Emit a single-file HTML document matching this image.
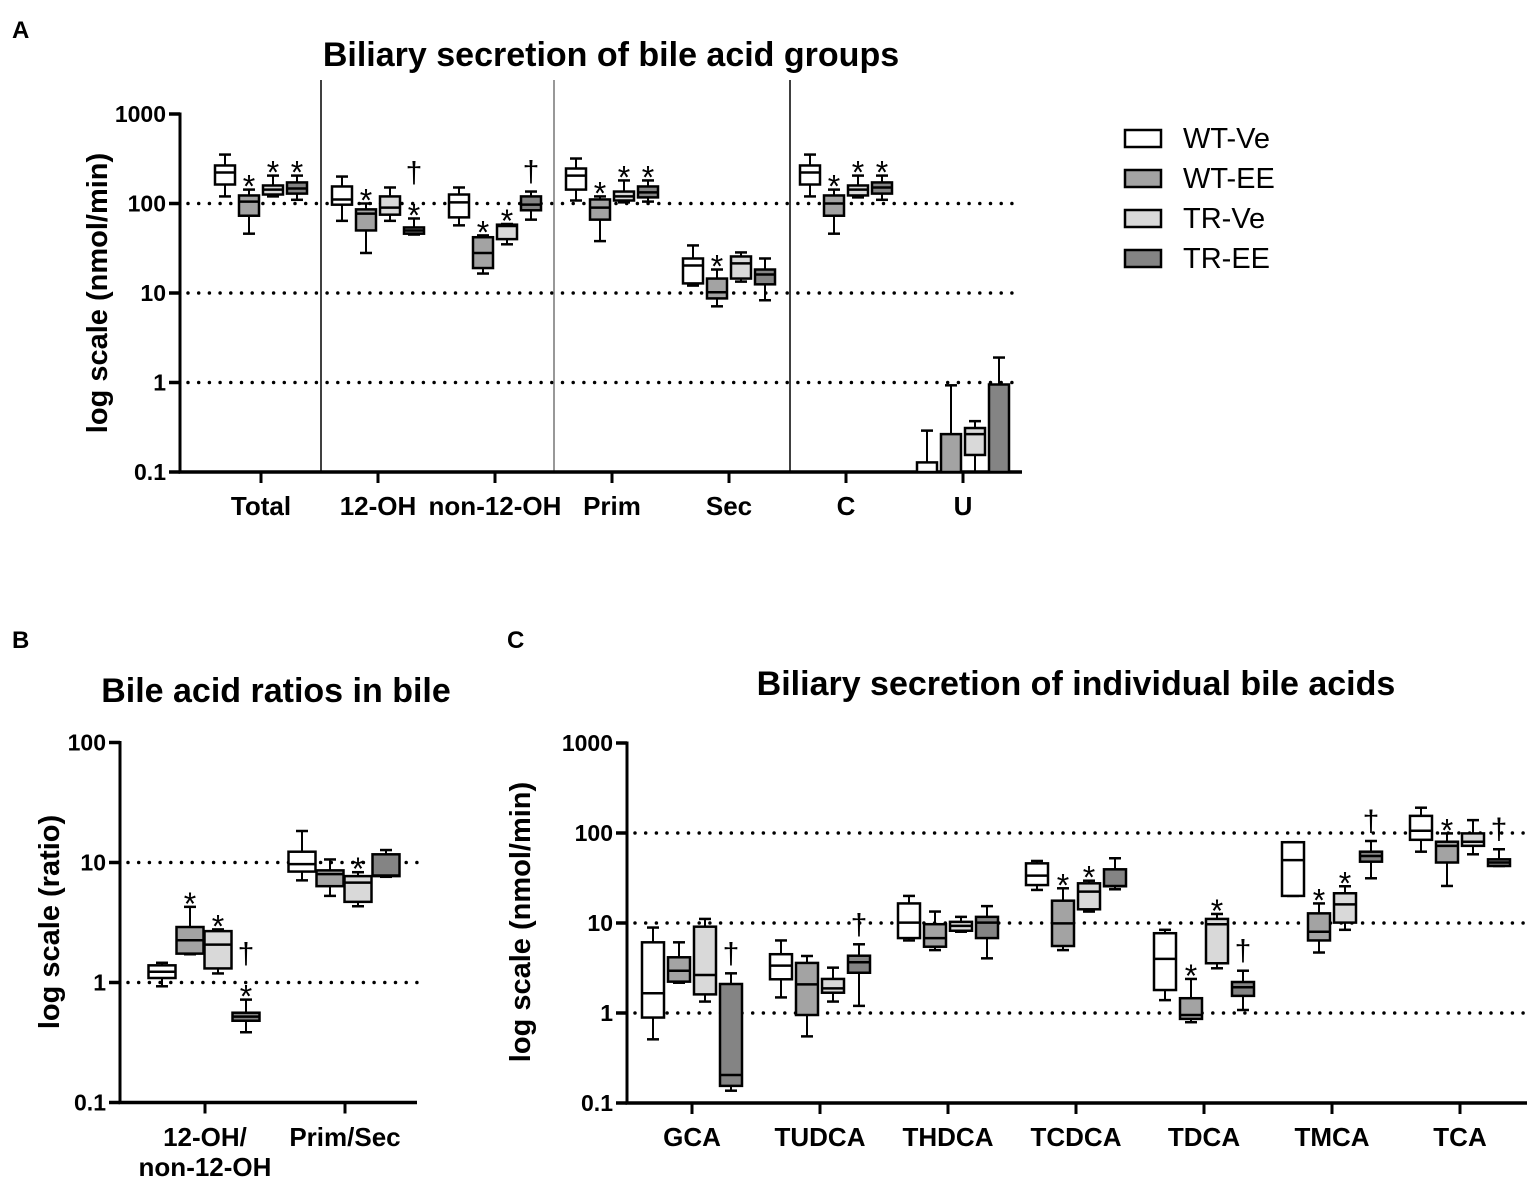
<!DOCTYPE html>
<html><head><meta charset="utf-8"><style>
html,body{margin:0;padding:0;background:#fff;}
svg{display:block;font-family:"Liberation Sans",Arial,sans-serif;}
</style></head><body>
<svg id="fig" width="1535" height="1182" viewBox="0 0 1535 1182">
<g id="root"></g>
</svg>
<script>
// ---------- Panel A data ----------
const aCategories = ["Total","12-OH","non-12-OH","Prim","Sec","C","U"];
const aWtVe  = [[120,163,222,266,352],[64,97,111,155,200],[57,70,103,126,151],[108,143,205,246,318],[12.1,12.8,20.3,24.3,34],[120,163,222,266,352],null];
const aWtEe  = [[46,73,105,123,143],[28,50,77,86,100],[16.5,19,28,42,44],[38,66,90,111,120],[7.1,8.7,10.2,14.5,18.3],[46,73,100,123,143],null];
const aTrVe  = [[120,126,143,159,205],[64,75,90,120,151],[35,40,56,58,59],[103,108,120,136,181],[13.4,14.5,21.4,25.6,28.4],[117,123,143,159,205],[0.1,0.155,0.265,0.31,0.37]];
const aTrEe  = [[110,129,147,172,205],[45,46,50,54,68],[66,84,97,120,136],[105,117,133,155,181],[8.3,12.5,16.1,18.3,24.3],[110,129,151,172,205],null];
const aUMeans = [0.128,0.265,null,0.95];
const aUErrs  = [0.29,0.93,null,1.9];
const aTicks = [1000,100,10,1,0.1];
const aTickLabels = ["1000","100","10","1","0.1"];
const aMarks = [[0,1,"*"],[0,2,"*"],[0,3,"*"],[1,1,"*"],[1,3,"*"],[1,3,"†"],[2,1,"*"],[2,2,"*"],[2,3,"†"],[3,1,"*"],[3,2,"*"],[3,3,"*"],[4,1,"*"],[5,1,"*"],[5,2,"*"],[5,3,"*"]];

// ---------- Panel B data ----------
const bCategories = ["12-OH/non-12-OH","Prim/Sec"];
const bWtVe = [[0.93,1.09,1.23,1.39,1.46],[7.1,8.4,9.7,12.3,18.3]];
const bWtEe = [[1.72,1.74,2.25,2.9,4.27],[5.27,6.35,8.0,8.6,10.6]];
const bTrVe = [[1.19,1.31,2.07,2.68,2.77],[4.32,4.7,6.8,7.7,8.3]];
const bTrEe = [[0.385,0.48,0.52,0.56,0.72],[7.6,7.7,7.8,11.7,12.7]];
const bTicks = [100,10,1,0.1];
const bTickLabels = ["100","10","1","0.1"];
const bMarks = [[0,1,"*"],[0,2,"*"],[0,3,"*"],[0,3,"†"],[1,2,"*"]];

// ---------- Panel C data ----------
const cCategories = ["GCA","TUDCA","THDCA","TCDCA","TDCA","TMCA","TCA"];
const cWtVe = [[0.51,0.89,1.66,6.1,8.9],[1.49,2.37,3.36,4.5,6.4],[6.4,6.8,10.1,16.5,20],[23.3,26.4,33.6,46,48.9],[1.39,1.8,4.0,7.7,8.4],[20,20,50,79,79],[62,84,106,155,191]];
const cWtEe = [[2.17,2.23,2.95,4.16,6.1],[0.55,0.95,2.08,3.6,4.3],[5.0,5.45,6.8,9.7,13.4],[5.0,5.55,9.9,17.7,24.3],[0.79,0.86,0.95,1.46,2.39],[4.7,6.4,8.0,12.8,16.5],[25.8,47,72,80,99]];
const cTrVe = [[1.34,1.61,2.64,9.1,11.1],[1.34,1.68,1.88,2.39,3.19],[8.0,8.2,9.3,10.3,11.7],[13.4,14.2,22.3,27.6,29.5],[3.14,3.57,9.7,11.1,12.6],[8.4,10.1,16.1,21.4,25.6],[58,72,80,99,139]];
const cTrEe = [[0.137,0.155,0.205,2.1,2.76],[1.2,2.8,3.66,4.33,5.8],[4.05,6.8,10.1,11.7,15.4],[23.7,25.6,25.8,39.5,52.4],[1.08,1.55,1.93,2.21,2.95],[31.4,48,55.5,62,81.5],[43,43,47,51,66]];
const cTicks = [1000,100,10,1,0.1];
const cTickLabels = ["1000","100","10","1","0.1"];
const cMarks = [[0,3,"†"],[1,3,"†"],[3,1,"*"],[3,2,"*"],[4,1,"*"],[4,2,"*"],[4,3,"†"],[5,1,"*"],[5,2,"*"],[5,3,"†"],[6,1,"*"],[6,3,"†"]];

const seriesNames = ["WT-Ve","WT-EE","TR-Ve","TR-EE"];
const fills = ["#ffffff","#a3a3a3","#d9d9d9","#848484"];
const NS = "http://www.w3.org/2000/svg";
const root = document.getElementById("root");

function el(tag, attrs, parent, text){
  const e = document.createElementNS(NS, tag);
  for (const k in attrs) e.setAttribute(k, attrs[k]);
  if (text !== undefined) e.textContent = text;
  (parent || root).appendChild(e);
  return e;
}
function txt(x,y,s,size,opts,parent){
  return el("text",Object.assign({x:x,y:y,"font-size":size,"font-weight":"bold",fill:"#000"},opts||{}),parent,s);
}

function panel(cfg){
  const g = el("g",{});
  
  
  const yS = v => cfg.yTop + (Math.log10(cfg.vTop) - Math.log10(v)) * cfg.pxDec;
  const xS = i => cfg.x0 + i * cfg.step;
  const yBot = yS(cfg.vBot);
  cfg.grid.forEach(v=>{
    const l = el("line",{x1:cfg.axX+8,x2:cfg.axEnd,y1:yS(v),y2:yS(v),stroke:"#000","stroke-width":3.5,"stroke-linecap":"round","stroke-dasharray":"0 10.7"},g);
    
    
  });
  (cfg.seps||[]).forEach(s=>{
    const l = el("line",{x1:s[0],x2:s[0],y1:cfg.sepTop,y2:yBot,stroke:s[1],"stroke-width":1.5},g);
    
    
  });
  const ya = el("line",{x1:cfg.axX,x2:cfg.axX,y1:yS(cfg.vTop)-1.5,y2:yBot+1.5,stroke:"#000","stroke-width":3},g);
  
  
  const xa = el("line",{x1:cfg.axX-1.5,x2:cfg.axEnd,y1:yBot,y2:yBot,stroke:"#000","stroke-width":3.5},g);
  
  
  cfg.ticks.forEach((v,i)=>{
    el("line",{x1:cfg.axX-11,x2:cfg.axX,y1:yS(v),y2:yS(v),stroke:"#000","stroke-width":3.5},g);
    const t = txt(cfg.axX-14,yS(v)+8,cfg.tickLabels[i],23,{"text-anchor":"end"},g);
    
    
  });
  cfg.cats.forEach((c,i)=>{
    el("line",{x1:xS(i),x2:xS(i),y1:yBot,y2:yBot+11,stroke:"#000","stroke-width":3},g);
    const lines = cfg.catLines ? cfg.catLines[i] : [c];
    lines.forEach((s,j)=>{
      const t = txt(xS(i),cfg.labY+j*30,s,26,{"text-anchor":"middle"},g);
      
      
    });
  });
  const tops = {};
  cfg.series.forEach((arr,si)=>{
    arr.forEach((d,ci)=>{
      if(!d) return;
      const cx = xS(ci) + cfg.off[si];
      const w = cfg.bw, cap = cfg.cap;
      const bg = el("g",{},g);
      
      
      el("line",{x1:cx,x2:cx,y1:yS(d[4]),y2:yS(d[3]),stroke:"#000","stroke-width":2},bg);
      el("line",{x1:cx,x2:cx,y1:yS(d[1]),y2:yS(d[0]),stroke:"#000","stroke-width":2},bg);
      el("line",{x1:cx-cap,x2:cx+cap,y1:yS(d[4]),y2:yS(d[4]),stroke:"#000","stroke-width":2.5},bg);
      el("line",{x1:cx-cap,x2:cx+cap,y1:yS(d[0]),y2:yS(d[0]),stroke:"#000","stroke-width":2.5},bg);
      el("rect",{x:cx-w/2,y:yS(d[3]),width:w,height:Math.max(1,yS(d[1])-yS(d[3])),fill:fills[si],stroke:"#000","stroke-width":2.5},bg);
      el("line",{x1:cx-w/2,x2:cx+w/2,y1:yS(d[2]),y2:yS(d[2]),stroke:"#000","stroke-width":2.5},bg);
      tops[ci+"_"+si] = yS(d[4]);
    });
  });
  if (cfg.bars){
    cfg.bars.means.forEach((m,si)=>{
      if(m===null) return;
      const ci = cfg.bars.cat, cx = xS(ci)+cfg.off[si], w = cfg.bw;
      const bg = el("g",{},g);
      
      
      const e = cfg.bars.errs[si];
      el("line",{x1:cx,x2:cx,y1:yS(e),y2:yS(m),stroke:"#000","stroke-width":2},bg);
      el("line",{x1:cx-cfg.cap,x2:cx+cfg.cap,y1:yS(e),y2:yS(e),stroke:"#000","stroke-width":2.5},bg);
      el("rect",{x:cx-w/2,y:yS(m),width:w,height:yBot-yS(m),fill:fills[si],stroke:"#000","stroke-width":2.5},bg);
    });
  }
  const stackCount = {};
  cfg.marks.forEach(mk=>{
    const [ci,si,sym] = mk;
    const key = ci+"_"+si;
    const n = stackCount[key]||0; stackCount[key]=n+1;
    const cx = xS(ci)+cfg.off[si];
    let y;
    if (sym==="*") y = tops[key] + 8 - n*30;
    else y = tops[key] - 10 - n*26;
    const t = txt(cx, y, sym, sym==="*"?32:30, {"text-anchor":"middle","font-weight":"normal"}, g);
    
    
  });
  const yt = txt(cfg.yTitleX, cfg.yTitleY, cfg.yTitle, 29, {"text-anchor":"middle",transform:"rotate(-90 "+cfg.yTitleX+" "+cfg.yTitleY+")"}, g);
  
  
  const tt = txt(cfg.titleX, cfg.titleY, cfg.title, 34, {"text-anchor":"middle"}, g);
  
  
  const lt = txt(cfg.letterX, cfg.letterY, cfg.letter, 24, {}, g);
  
  
}

panel({name:"panel-a",letter:"A",letterX:12,letterY:38,title:"Biliary secretion of bile acid groups",titleX:611,titleY:66,
  yTop:114,vTop:1000,vBot:0.1,pxDec:89.5,axX:180,axEnd:1022,x0:261,step:117,cats:aCategories,labY:515,
  ticks:aTicks,tickLabels:aTickLabels,grid:[100,10,1],seps:[[321,"#000"],[554,"#777"],[790,"#000"]],sepTop:80,
  series:[aWtVe,aWtEe,aTrVe,aTrEe],off:[-36,-12,12,36],bw:20,cap:6,marks:aMarks,
  bars:{cat:6,means:aUMeans,errs:aUErrs},
  yTitle:"log scale (nmol/min)",yTitleX:107,yTitleY:293});

panel({name:"panel-b",letter:"B",letterX:12,letterY:648,title:"Bile acid ratios in bile",titleX:276,titleY:702,
  yTop:742.5,vTop:100,vBot:0.1,pxDec:120,axX:120,axEnd:417,x0:205,step:140,cats:bCategories,labY:1146,
  catLines:[["12-OH/","non-12-OH"],["Prim/Sec"]],
  ticks:bTicks,tickLabels:bTickLabels,grid:[10,1],
  series:[bWtVe,bWtEe,bTrVe,bTrEe],off:[-43,-15,13,41],bw:27,cap:6,marks:bMarks,
  yTitle:"log scale (ratio)",yTitleX:59,yTitleY:922});

panel({name:"panel-c",letter:"C",letterX:507,letterY:648,title:"Biliary secretion of individual bile acids",titleX:1076,titleY:695,
  yTop:743,vTop:1000,vBot:0.1,pxDec:90,axX:627,axEnd:1527,x0:692,step:128,cats:cCategories,labY:1146,
  ticks:cTicks,tickLabels:cTickLabels,grid:[100,10,1],
  series:[cWtVe,cWtEe,cTrVe,cTrEe],off:[-39,-13,13,39],bw:22,cap:6,marks:cMarks,
  yTitle:"log scale (nmol/min)",yTitleX:530,yTitleY:922});

const lg = el("g",{});


seriesNames.forEach((s,i)=>{
  const eg = el("g",{},lg);
  
  
  el("rect",{x:1125,y:130+i*40,width:36,height:17,fill:fills[i],stroke:"#000","stroke-width":2.5},eg);
  el("text",{x:1183,y:148+i*40,"font-size":29,fill:"#000"},eg,s);
});
</script>
</body></html>
